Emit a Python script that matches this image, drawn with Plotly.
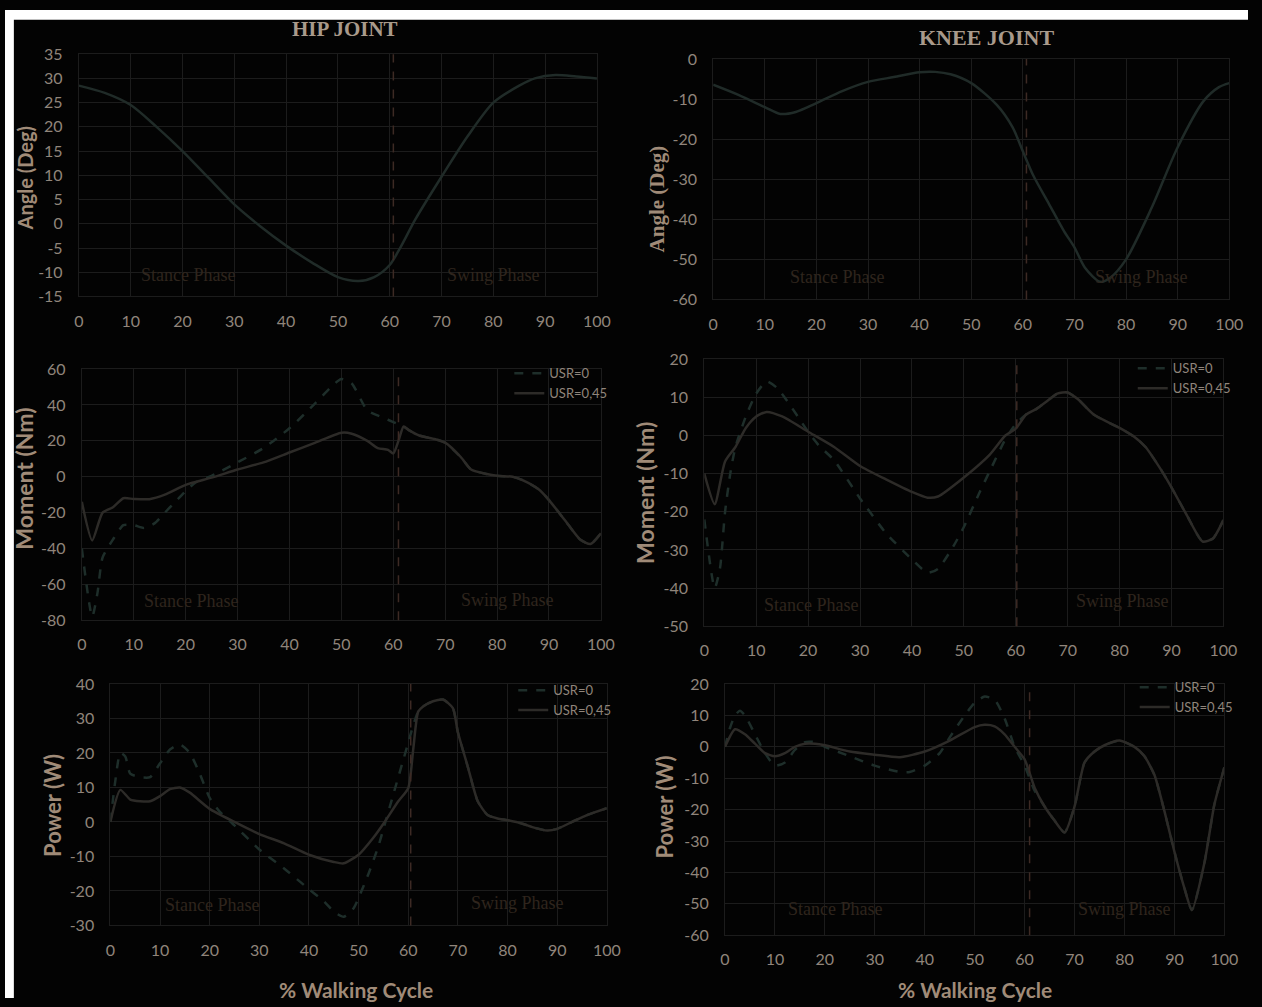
import plotly.graph_objects as go

# ---------------- data: % walking cycle vs. joint kinematics / kinetics ----------------
# Hip joint angle (deg)
hip_angle_x = [0, 5, 10, 15, 20, 25, 30, 35, 40, 45, 50, 54, 57, 60, 62, 65, 70, 75, 80, 85, 88, 92, 96, 100]
hip_angle_y = [28.5, 27, 24.5, 20, 15, 9.5, 4, -0.5, -4.5, -8, -11, -11.8, -11, -8.5, -5, 1, 9.7, 18, 25, 28.5, 30, 30.7, 30.4, 30]

# Knee joint angle (deg)
knee_angle_x = [0, 5, 10, 13, 16, 20, 25, 30, 35, 40, 43, 46, 50, 55, 58, 60, 62, 65, 68, 70, 72, 75, 77, 80, 85, 90, 95, 98, 100]
knee_angle_y = [-6.4, -9, -12, -13.7, -13.2, -11, -8, -5.7, -4.5, -3.3, -3.2, -3.8, -6, -11.5, -17, -23, -29, -36, -43, -47, -52, -55.6, -54.5, -50, -37, -22, -10.5, -7, -6]

# Hip moment (Nm)
hip_mom_x0 = [0, 2, 3, 4, 6, 8, 10, 12, 14, 16, 18, 20, 22, 25, 30, 35, 40, 45, 48, 50, 52, 55, 58, 60, 62,
              63, 65, 68, 70, 73, 75, 78, 80, 83, 85, 88, 90, 93, 96, 98, 100]
hip_mom_y0 = [-40, -78, -65, -45, -35, -27, -27, -28.5, -26, -20, -14, -8, -3, 0.5, 8, 16, 27, 41, 50, 54.5, 52, 37, 33, 30.5, 28,
              26, 23, 21, 19, 11, 4, 1.5, 0.5, 0, -2, -7, -13, -24, -35, -37.5, -31.5]
hip_mom_x45 = [0, 2, 4, 6, 8, 10, 13, 16, 20, 25, 30, 35, 40, 45, 50, 52, 55, 57, 59, 60, 61, 62,
               63, 65, 68, 70, 73, 75, 78, 80, 83, 85, 88, 90, 93, 96, 98, 100]
hip_mom_y45 = [-14, -35.5, -20, -17, -12, -12.4, -12.5, -10, -4.5, -0.5, 4, 8, 13.5, 19, 24.5, 24, 20, 16, 15, 13, 20, 28,
               26, 23, 21, 19, 11, 4, 1.5, 0.5, 0, -2, -7, -13, -24, -35, -37.5, -31.5]

# Knee moment (Nm)
knee_mom_x0 = [0, 2, 3, 4, 5, 6, 8, 10, 12, 14, 16, 18, 20, 22, 25, 30, 35, 40, 43, 45, 48, 50, 53, 55, 58, 60, 62,
               64, 66, 68, 70, 72, 75, 80, 83, 85, 88, 90, 93, 96, 98, 100]
knee_mom_y0 = [-22, -40, -35, -20, -10, -3, 5, 11, 14.2, 12.5, 9, 5, 1, -2.5, -6.5, -16.5, -25.6, -32.5, -36, -35, -29, -24, -15, -9.3, -1, 3, 5.5,
               7, 9, 11, 11.3, 9.5, 5.5, 2, -0.5, -3, -9, -13.6, -21, -27.8, -27, -22.2]
knee_mom_x45 = [0, 2, 4, 6, 8, 10, 12, 15, 20, 25, 30, 35, 40, 43, 45, 50, 55, 58, 60, 62,
                64, 66, 68, 70, 72, 75, 80, 83, 85, 88, 90, 93, 96, 98, 100]
knee_mom_y45 = [-10, -18, -6.8, -3, 2, 5, 6.2, 5, 1, -3, -8, -11.5, -14.8, -16.3, -16, -11, -5, 0, 1.8, 5.5,
                7, 9, 11, 11.3, 9.5, 5.5, 2, -0.5, -3, -9, -13.6, -21, -27.8, -27, -22.2]

# Hip power (W)
hip_pow_x0 = [0, 1, 2, 3, 4, 6, 8, 10, 12, 14, 16, 18, 20, 22, 25, 30, 35, 40, 43, 45, 47, 49, 50, 52, 54, 55, 57, 59, 60, 61, 62,
              63, 65, 67, 69, 70, 72, 74, 76, 78, 80, 83, 85, 88, 90, 93, 96, 100]
hip_pow_y0 = [0, 12, 20, 19, 14, 13, 13, 17, 21, 22.5, 20, 14, 7, 3, -1, -8, -13.5, -19.5, -23, -26, -27.5, -25, -22, -15, -7, -2, 8, 18, 23, 28, 32,
              33.5, 35, 35.5, 33, 26, 16, 6, 2, 1, 0.5, -0.5, -1.5, -2.5, -2, 0, 2, 4]
hip_pow_x45 = [0, 2, 4, 6, 8, 10, 12, 14, 16, 20, 25, 30, 35, 40, 45, 47, 50, 53, 55, 58, 60, 61, 62,
               63, 65, 67, 69, 70, 72, 74, 76, 78, 80, 83, 85, 88, 90, 93, 96, 100]
hip_pow_y45 = [0, 9.3, 6.5, 6, 6, 7.5, 9.5, 10, 8.5, 3.8, 0, -3.5, -6.2, -9.5, -11.6, -12, -9.5, -4.5, -0.5, 6, 9.8, 21, 32,
               33.5, 35, 35.5, 33, 26, 16, 6, 2, 1, 0.5, -0.5, -1.5, -2.5, -2, 0, 2, 4]

# Knee power (W)
knee_pow_x0 = [0, 1, 2, 3, 4, 6, 8, 10, 12, 14, 16, 18, 20, 25, 30, 35, 37, 40, 43, 45, 48, 50, 52, 54, 56, 58, 60, 61, 62,
               64, 66, 68, 70, 72, 74, 76, 79, 82, 84, 86, 88, 90, 92, 93.5, 96, 98, 100]
knee_pow_y0 = [0, 6, 10, 11.5, 10, 4, -2, -6, -5, -1, 1.5, 1.5, 0, -3, -6, -8, -8, -6, -2, 3, 10, 14, 16, 15, 9, 0, -6, -10, -14,
               -19, -23.5, -27.3, -19, -5, -1.5, 0.5, 2, 0, -3, -9, -20.5, -33.4, -45, -52, -37, -18.4, -6.5]
knee_pow_x45 = [0, 2, 4, 6, 8, 10, 12, 14, 16, 18, 20, 25, 30, 35, 40, 45, 50, 52, 54, 56, 58, 60, 62,
                64, 66, 68, 70, 72, 74, 76, 79, 82, 84, 86, 88, 90, 92, 93.5, 96, 98, 100]
knee_pow_y45 = [0, 5.6, 4, 1, -2, -3, -2, 0, 1, 1, 0.5, -1.5, -2.5, -3.3, -1.5, 2, 6.3, 7, 6.5, 4, 0, -4, -13,
                -19, -23.5, -27.3, -19, -5, -1.5, 0.5, 2, 0, -3, -9, -20.5, -33.4, -45, -52, -37, -18.4, -6.5]

series_names = ["USR=0", "USR=0,45"]
phase_names = ["Stance Phase", "Swing Phase"]
joint_titles = ["HIP JOINT", "KNEE JOINT"]
x_title = "% Walking Cycle"
x_ticks = list(range(0, 101, 10))

# ---------------- styling ----------------
W, H = 1262, 1007
BG = "#030303"
GRID = "#1c1c1c"
TICK = "#90857b"
TITLE = "#a08b78"
LINE_SOLID = "#2d2b28"
LINE_DASH = "#1e2e2a"
ANGLE_LINE = "#202b28"
PHASE = "#2f251d"
DIVIDER = "#3d2a24"
SANS = "Lato"
SERIF = "Liberation Serif"


def px_x(p):
    return p / W


def px_y(p):
    return 1 - p / H


# panel boxes in pixels: (left, right, top, bottom), y range, y step, divider x, phase label positions
panels = [
    dict(box=(75, 601, 45, 292), yr=(-15, 35), dy=5, div=60.7, stance=(21, -10.5), swing=(80, -10.5)),
    dict(box=(719, 1243, 50, 295), yr=(-60, 0), dy=10, div=60.7, stance=(24, -54.5), swing=(83, -54.5)),
    dict(box=(78, 605, 366, 622), yr=(-80, 60), dy=20, div=61, stance=(21, -69), swing=(82, -68.5)),
    dict(box=(710, 1237, 356, 628), yr=(-50, 20), dy=10, div=60.2, stance=(20.5, -44.5), swing=(80.5, -43.5)),
    dict(box=(107, 611, 687, 933), yr=(-30, 40), dy=10, div=60.5, stance=(20.5, -24), swing=(82, -23.5)),
    dict(box=(731, 1238, 687, 943), yr=(-60, 20), dy=10, div=61, stance=(22, -51.5), swing=(80, -51.5)),
]

fig = go.Figure()
layout = dict(
    width=W, height=H,
    margin=dict(l=0, r=0, t=0, b=0),
    paper_bgcolor=BG, plot_bgcolor=BG,
    showlegend=True,
)

shapes = []
annotations = []


def label(x, y, text, font, angle=0):
    # a free text label centred on a pixel position of the figure
    return dict(xref="paper", yref="paper", x=px_x(x), y=px_y(y), text=text, textangle=angle,
                xanchor="center", yanchor="middle", showarrow=False, font=font)


for i, p in enumerate(panels, start=1):
    l, r, t, b = p["box"]
    xa = "xaxis" if i == 1 else f"xaxis{i}"
    ya = "yaxis" if i == 1 else f"yaxis{i}"
    xid = "x" if i == 1 else f"x{i}"
    yid = "y" if i == 1 else f"y{i}"
    y_ticks = list(range(p["yr"][0], p["yr"][1] + 1, p["dy"]))
    layout[xa] = dict(
        domain=[px_x(l), px_x(r)], anchor=yid, range=[0, 100],
        tickmode="array", tickvals=x_ticks, ticktext=[str(v) for v in x_ticks],
        showgrid=True, gridcolor=GRID, gridwidth=1, zeroline=False,
        showline=True, linecolor=GRID, mirror=True, ticks="",
        tickfont=dict(family=SANS, size=16, color=TICK), ticklabelstandoff=10,
        fixedrange=True,
    )
    layout[ya] = dict(
        domain=[px_y(b), px_y(t)], anchor=xid, range=list(p["yr"]),
        tickmode="array", tickvals=y_ticks, ticktext=[str(v) for v in y_ticks],
        showgrid=True, gridcolor=GRID, gridwidth=1, zeroline=False,
        showline=True, linecolor=GRID, mirror=True, ticks="",
        tickfont=dict(family=SANS, size=16, color=TICK), ticklabelstandoff=12,
        fixedrange=True,
    )
    # stance / swing divider
    shapes.append(dict(type="line", xref=xid, yref=f"{yid} domain", x0=p["div"], x1=p["div"],
                       y0=0, y1=1, line=dict(color=DIVIDER, width=1.5, dash="dash")))
    for name, pos in zip(phase_names, (p["stance"], p["swing"])):
        annotations.append(dict(xref=xid, yref=yid, x=pos[0], y=pos[1], text=name, showarrow=False,
                                xanchor="center", yanchor="middle",
                                font=dict(family=SERIF, size=18, color=PHASE)))


def add_pair(idx, x0, y0, x45, y45, legend_key):
    xid = "x" if idx == 1 else f"x{idx}"
    yid = "y" if idx == 1 else f"y{idx}"
    fig.add_trace(go.Scatter(x=x0, y=y0, mode="lines", name=series_names[0], xaxis=xid, yaxis=yid,
                             line=dict(color=LINE_DASH, width=2.5, dash="dash", shape="spline", smoothing=0.6),
                             legend=legend_key))
    fig.add_trace(go.Scatter(x=x45, y=y45, mode="lines", name=series_names[1], xaxis=xid, yaxis=yid,
                             line=dict(color=LINE_SOLID, width=2.5, shape="spline", smoothing=0.6),
                             legend=legend_key))


# joint angles: single curve each
fig.add_trace(go.Scatter(x=hip_angle_x, y=hip_angle_y, mode="lines", showlegend=False,
                         line=dict(color=ANGLE_LINE, width=2.5, shape="spline", smoothing=0.8)))
fig.add_trace(go.Scatter(x=knee_angle_x, y=knee_angle_y, mode="lines", showlegend=False, xaxis="x2", yaxis="y2",
                         line=dict(color=ANGLE_LINE, width=2.5, shape="spline", smoothing=0.8)))

add_pair(3, hip_mom_x0, hip_mom_y0, hip_mom_x45, hip_mom_y45, "legend")
add_pair(4, knee_mom_x0, knee_mom_y0, knee_mom_x45, knee_mom_y45, "legend2")
add_pair(5, hip_pow_x0, hip_pow_y0, hip_pow_x45, hip_pow_y45, "legend3")
add_pair(6, knee_pow_x0, knee_pow_y0, knee_pow_x45, knee_pow_y45, "legend4")

legend_style = dict(xanchor="left", yanchor="top", bgcolor="rgba(0,0,0,0)", borderwidth=0,
                    font=dict(family=SANS, size=13, color=TICK), tracegroupgap=0)
layout["legend"] = dict(x=px_x(512), y=px_y(355), **legend_style)
layout["legend2"] = dict(x=px_x(1145), y=px_y(350), **legend_style)
layout["legend3"] = dict(x=px_x(516), y=px_y(678), **legend_style)
layout["legend4"] = dict(x=px_x(1147), y=px_y(675), **legend_style)

# joint titles
annotations.append(label(345, 19, f"<b>{joint_titles[0]}</b>", dict(family=SERIF, size=21, color="#a99a8b")))
annotations.append(label(996, 28, f"<b>{joint_titles[1]}</b>", dict(family=SERIF, size=22, color="#a99a8b")))

# y-axis titles
y_titles = [
    ("Angle (Deg)", 20, 171, SANS, 20),
    ("Angle (Deg)", 662, 193, SERIF, 21),
    ("Moment (Nm)", 19, 478, SANS, 23),
    ("Moment (Nm)", 650, 492, SANS, 23),
    ("Power (W)", 48, 811, SANS, 22),
    ("Power (W)", 670, 812, SANS, 22),
]
for text, x, y, fam, size in y_titles:
    annotations.append(label(x, y, f"<b>{text}</b>", dict(family=fam, size=size, color=TITLE), angle=-90))

# x-axis titles
for x in (356, 985):
    annotations.append(label(x, 998, f"<b>{x_title}</b>", dict(family=SANS, size=21, color=TITLE)))

# white frame strips on the top and left edges
shapes.append(dict(type="rect", xref="paper", yref="paper", x0=0, x1=1, y0=px_y(10), y1=1,
                   fillcolor="white", line=dict(width=0), layer="above"))
shapes.append(dict(type="rect", xref="paper", yref="paper", x0=0, x1=px_x(9), y0=0, y1=1,
                   fillcolor="white", line=dict(width=0), layer="above"))

layout["shapes"] = shapes
layout["annotations"] = annotations
fig.update_layout(**layout)

fig.write_html("out.html")
